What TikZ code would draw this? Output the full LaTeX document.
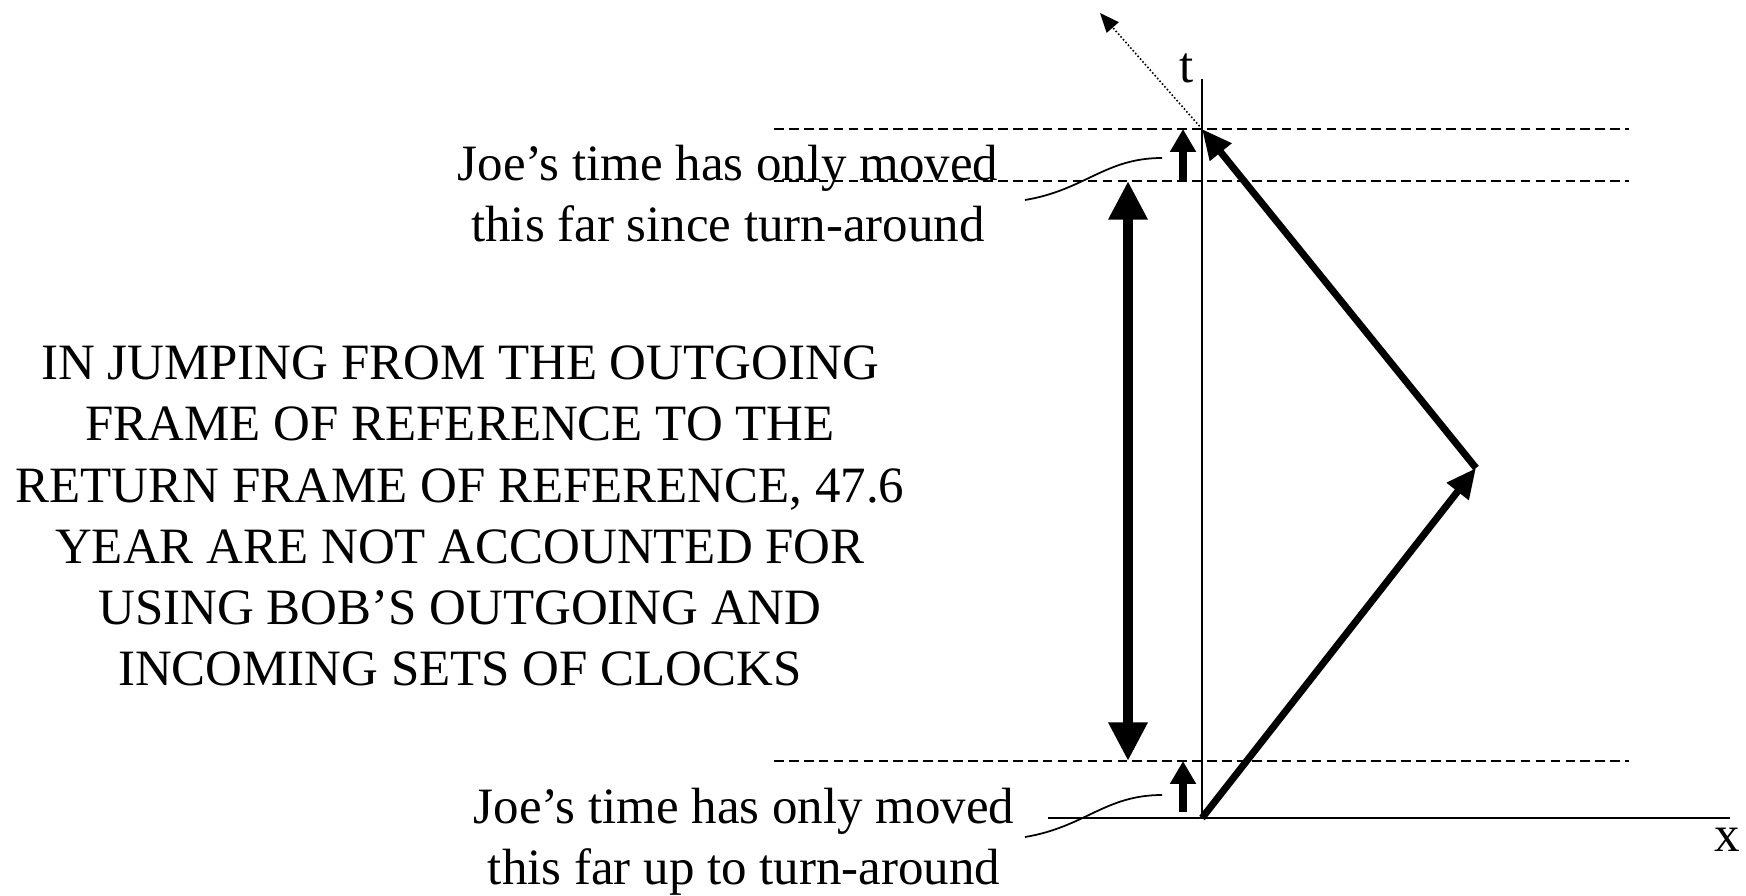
\documentclass[tikz,border=0pt]{standalone}
\usepackage{fontspec}
\setmainfont{Liberation Serif}
\usepackage{xcolor}
\definecolor{cInk}{HTML}{000000}
\usepackage{tikz}
\usetikzlibrary{positioning,arrows.meta,calc}
\tikzset{
  node-note/.style={align=center,inner sep=0pt,
    font=\fontsize{29pt}{34.8pt}\selectfont},
  node-axis/.style={inner sep=0pt,font=\fontsize{29pt}{34.8pt}\selectfont},
  axis-line/.style={line width=1.1pt,draw=cInk},
  guide-dash/.style={line width=1.1pt,draw=cInk,dash pattern=on 5.5pt off 3pt},
  world-line/.style={line width=4pt,draw=cInk,-{Triangle[length=17pt,width=15pt]}},
  light-ray/.style={line width=0.9pt,draw=cInk,dash pattern=on 0.9pt off 1.2pt,
    -{Triangle[length=11pt,width=9pt]}},
  arrow-gap/.style={line width=5.6pt,draw=cInk,{Triangle[length=22pt,width=21pt]}-{Triangle[length=22pt,width=21pt]}},
  arrow-joe/.style={line width=4.5pt,draw=cInk,-{Triangle[length=13pt,width=14pt]}},
  leader/.style={line width=1pt,draw=cInk},
}
\begin{document}
\begin{tikzpicture}[x=0.02cm,y=-0.02cm]
  \useasboundingbox (0,0) rectangle (1746,895);
  % axes
  \coordinate (o) at (1202,818);
  \coordinate (ttop) at (1202,79);
  \coordinate (xl) at (1048,818);
  \coordinate (xr) at (1730,818);
  \draw[axis-line] (o) -- (ttop);
  \draw[axis-line] (xl) -- (xr);
  \node[node-axis] (tlab) at (1187,68) {t};
  \node[node-axis] (xlab) at (1727,840) {x};
  % guide lines
  \foreach \yy/\nm in {129/gtop,181/gmid,761/glow}{
    \coordinate (\nm-l) at (774,\yy);
    \coordinate (\nm-r) at (1629,\yy);
    \draw[guide-dash] (\nm-l) -- (\nm-r);
  }
  % Bob's trip
  \coordinate (turn) at (1476,468);
  \coordinate (back) at (1202,129);
  \coordinate (ray) at (1100,13);
  \draw[world-line] (o) -- (turn);
  \draw[world-line] (turn) -- (back);
  \draw[light-ray] (back) -- (ray);
  % Joe's clock
  \coordinate (jtop-a) at (1183,181);
  \coordinate (jtop-b) at (1183,129);
  \coordinate (jlow-a) at (1183,812);
  \coordinate (jlow-b) at (1183,761);
  \draw[arrow-joe] (jtop-a) -- (jtop-b);
  \draw[arrow-joe] (jlow-a) -- (jlow-b);
  \coordinate (gap-a) at (1128,181);
  \coordinate (gap-b) at (1128,761);
  \draw[arrow-gap] (gap-a) -- (gap-b);
  % notes
  \node[node-note] (note-top) at (728,194) {Joe’s time has only moved\\this far since turn-around};
  \node[node-note] (note-low) at (744,842) {Joe’s time has only moved\\this far up to turn-around};
  \node[node-note] (note-gap) at (460,516) {IN JUMPING FROM THE OUTGOING\\FRAME OF REFERENCE TO THE\\RETURN FRAME OF REFERENCE, 47.6\\YEAR ARE NOT ACCOUNTED FOR\\USING BOB’S OUTGOING AND\\INCOMING SETS OF CLOCKS};
  \coordinate (lead-top-a) at (1025,200);
  \coordinate (lead-top-b) at (1162,158);
  \coordinate (lead-low-a) at (1025,837);
  \coordinate (lead-low-b) at (1162,795);
  \draw[leader] (lead-top-a) .. controls (1085,190) and (1105,158) .. (lead-top-b);
  \draw[leader] (lead-low-a) .. controls (1085,827) and (1105,795) .. (lead-low-b);
\end{tikzpicture}
\end{document}
